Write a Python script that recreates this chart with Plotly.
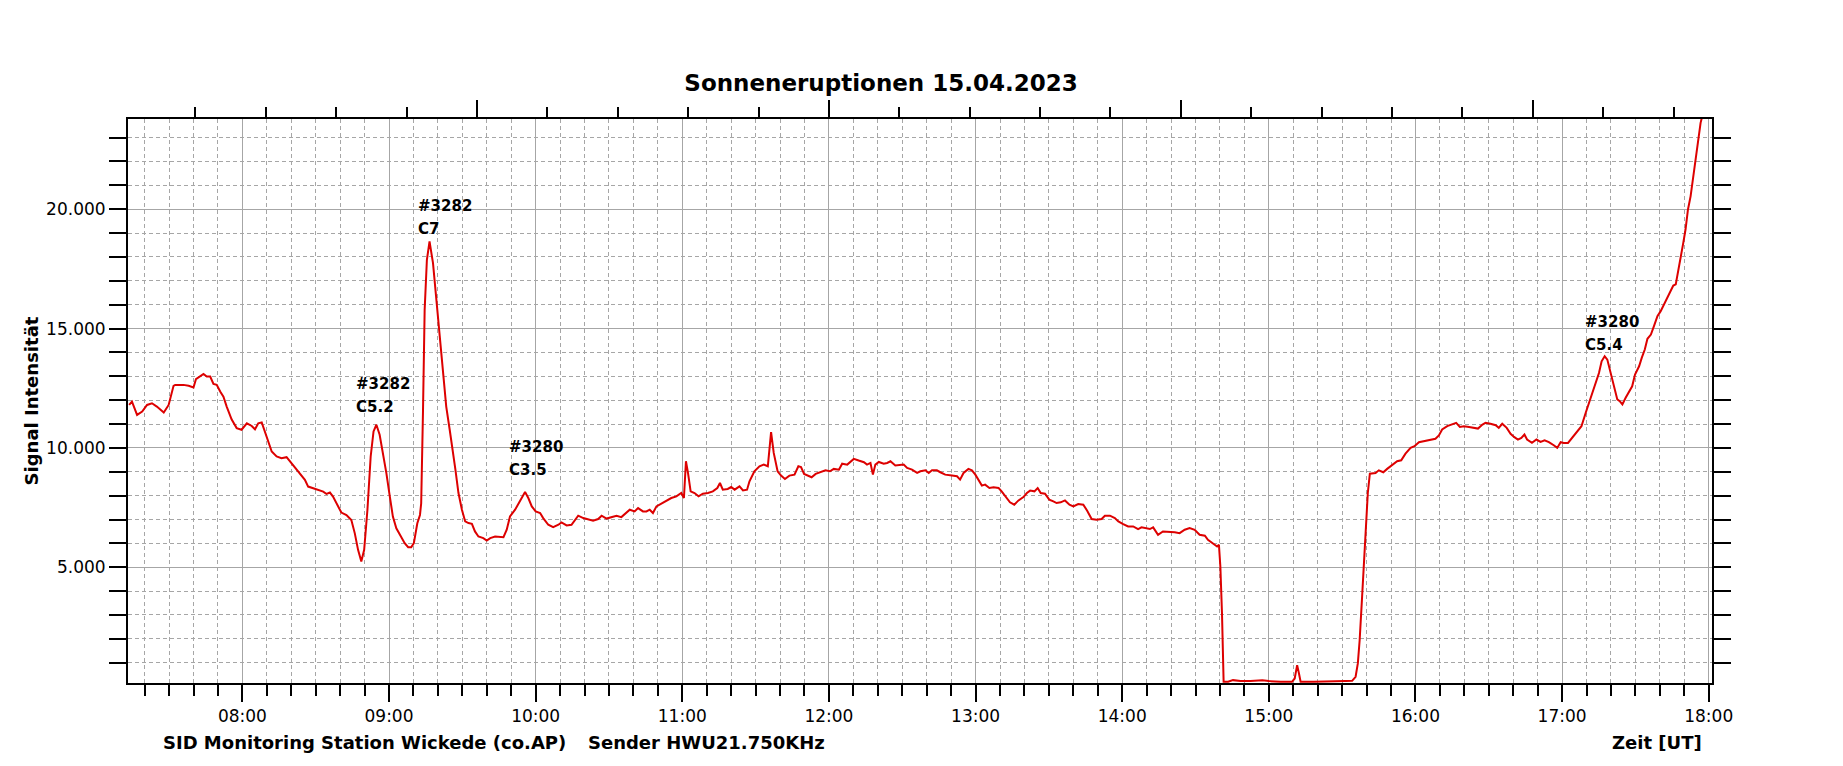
import pandas as pd
import plotly.graph_objects as go

# SID Messung 15.04.2023 - Zeit (UT) und Signalintensitaet
zeit = [
    "07:13:40", "07:14:50", "07:16:55", "07:19:00", "07:21:00", "07:23:00", "07:25:00", "07:27:50",
    "07:29:50", "07:31:50", "07:32:30", "07:33:55", "07:35:55", "07:38:00", "07:40:00", "07:41:00",
    "07:42:40", "07:44:05", "07:45:25", "07:46:50", "07:48:10", "07:49:30", "07:50:55", "07:52:15",
    "07:53:35", "07:55:35", "07:57:40", "07:59:40", "08:01:50", "08:03:50", "08:05:10", "08:06:30",
    "08:07:55", "08:09:55", "08:12:00", "08:14:00", "08:16:00", "08:18:05", "08:20:05", "08:22:10",
    "08:24:10", "08:25:35", "08:26:55", "08:29:00", "08:31:00", "08:33:05", "08:34:25", "08:35:50",
    "08:37:05", "08:39:10", "08:40:30", "08:42:35", "08:44:35", "08:46:00", "08:47:20", "08:48:40",
    "08:49:50", "08:51:10", "08:52:30", "08:53:40", "08:54:50", "08:56:10", "08:57:35", "08:58:55",
    "09:00:20", "09:01:35", "09:03:00", "09:04:50", "09:06:25", "09:07:50", "09:09:05", "09:10:10",
    "09:11:35", "09:12:40", "09:13:10", "09:13:55", "09:14:35", "09:15:30", "09:16:35", "09:18:00",
    "09:19:20", "09:20:40", "09:22:00", "09:23:25", "09:24:50", "09:26:00", "09:27:10", "09:28:25",
    "09:29:50", "09:31:10", "09:32:30", "09:33:55", "09:35:10", "09:36:35", "09:38:35", "09:40:00",
    "09:41:25", "09:43:25", "09:45:25", "09:46:50", "09:48:10", "09:49:30", "09:51:35", "09:53:35",
    "09:55:00", "09:55:40", "09:57:00", "09:58:25", "10:00:00", "10:01:50", "10:03:05", "10:05:10",
    "10:07:10", "10:09:20", "10:10:35", "10:12:40", "10:14:40", "10:16:05", "10:17:25", "10:19:30",
    "10:21:30", "10:23:30", "10:25:35", "10:27:00", "10:29:00", "10:31:00", "10:33:05", "10:35:05",
    "10:37:05", "10:38:30", "10:40:30", "10:41:55", "10:43:55", "10:45:20", "10:46:40", "10:48:00",
    "10:49:25", "10:51:25", "10:53:30", "10:55:30", "10:57:35", "10:59:35", "11:00:40", "11:01:30",
    "11:02:20", "11:03:25", "11:05:00", "11:06:40", "11:08:25", "11:10:30", "11:12:30", "11:14:20",
    "11:15:25", "11:16:35", "11:18:35", "11:20:00", "11:21:25", "11:23:25", "11:24:50", "11:26:30",
    "11:27:30", "11:29:30", "11:31:35", "11:33:20", "11:35:00", "11:36:20", "11:37:25", "11:39:00",
    "11:40:25", "11:42:00", "11:43:50", "11:45:55", "11:47:30", "11:48:35", "11:49:50", "11:51:10",
    "11:52:55", "11:54:35", "11:56:35", "11:58:35", "12:00:25", "12:02:00", "12:04:05", "12:05:25",
    "12:07:30", "12:08:50", "12:10:10", "12:12:10", "12:14:20", "12:15:35", "12:17:00", "12:18:00",
    "12:19:00", "12:20:25", "12:22:25", "12:23:50", "12:25:10", "12:27:10", "12:29:20", "12:30:35",
    "12:32:00", "12:34:00", "12:36:05", "12:37:25", "12:39:30", "12:40:50", "12:42:10", "12:44:10",
    "12:45:35", "12:47:35", "12:50:20", "12:52:25", "12:53:40", "12:55:05", "12:57:05", "12:58:30",
    "12:59:55", "13:01:10", "13:02:35", "13:03:55", "13:05:40", "13:07:20", "13:09:25", "13:10:40",
    "13:12:50", "13:14:05", "13:15:50", "13:17:35", "13:19:35", "13:21:00", "13:22:20", "13:24:05",
    "13:25:25", "13:26:40", "13:28:25", "13:30:10", "13:31:50", "13:33:10", "13:34:50", "13:36:35",
    "13:38:25", "13:40:00", "13:42:00", "13:44:05", "13:45:40", "13:47:30", "13:49:30", "13:51:35",
    "13:52:55", "13:55:00", "13:57:00", "13:58:25", "14:00:25", "14:02:25", "14:04:30", "14:06:30",
    "14:07:55", "14:09:55", "14:11:20", "14:12:40", "14:14:40", "14:16:40", "14:19:30", "14:21:30",
    "14:23:30", "14:25:35", "14:27:35", "14:29:40", "14:31:40", "14:33:50", "14:35:05", "14:37:10",
    "14:38:50", "14:39:35", "14:40:10", "14:40:50", "14:41:30", "14:43:20", "14:45:20", "14:48:25",
    "14:52:30", "14:57:20", "15:00:00", "15:04:50", "15:09:30", "15:10:35", "15:11:35", "15:12:20",
    "15:13:00", "15:18:25", "15:25:10", "15:29:20", "15:31:25", "15:34:05", "15:35:30", "15:36:25",
    "15:37:10", "15:38:10", "15:39:10", "15:40:00", "15:40:30", "15:41:20", "15:42:20", "15:43:40",
    "15:45:00", "15:46:50", "15:48:25", "15:50:30", "15:52:30", "15:54:10", "15:55:55", "15:58:00",
    "15:59:35", "16:01:25", "16:03:10", "16:04:50", "16:06:10", "16:08:10", "16:09:35", "16:10:55",
    "16:13:00", "16:15:00", "16:16:40", "16:18:10", "16:19:50", "16:21:55", "16:23:55", "16:25:35",
    "16:27:25", "16:28:40", "16:30:40", "16:32:50", "16:34:05", "16:35:30", "16:37:20", "16:38:55",
    "16:40:20", "16:41:55", "16:43:20", "16:44:35", "16:45:40", "16:47:40", "16:49:30", "16:51:10",
    "16:52:50", "16:54:35", "16:56:35", "16:58:00", "16:59:25", "17:00:40", "17:02:25", "17:04:10",
    "17:06:10", "17:07:55", "17:09:40", "17:11:40", "17:13:30", "17:15:05", "17:16:10", "17:17:25",
    "17:18:30", "17:19:55", "17:21:30", "17:22:35", "17:23:35", "17:24:40", "17:26:00", "17:27:25",
    "17:28:40", "17:29:50", "17:31:30", "17:32:35", "17:33:50", "17:34:55", "17:36:20", "17:37:35",
    "17:39:00", "17:40:20", "17:41:40", "17:43:05", "17:44:25", "17:45:30", "17:46:30", "17:47:25",
    "17:48:30", "17:49:35", "17:50:30", "17:51:30", "17:52:35", "17:53:40", "17:54:35", "17:55:35",
    "17:56:40", "17:57:10",
]
signal = [
    11800, 11940, 11380, 11520, 11800, 11870, 11730, 11480,
    11800, 12600, 12640, 12640, 12640, 12600, 12530, 12880,
    12990, 13100, 12990, 12990, 12680, 12640, 12360, 12150,
    11730, 11200, 10830, 10760, 11030, 10920, 10780, 11030,
    11070, 10480, 9850, 9640, 9570, 9610, 9360, 9110,
    8870, 8660, 8380, 8310, 8270, 8170, 8070, 8130,
    7960, 7540, 7290, 7190, 6980, 6420, 5730, 5240,
    5730, 7400, 9640, 10690, 10970, 10550, 9780, 8940,
    7960, 7120, 6630, 6260, 6010, 5840, 5840, 6010,
    6840, 7190, 7680, 11600, 15780, 17880, 18650, 17740,
    16200, 14670, 13130, 11730, 10760, 9800, 9090, 8110,
    7410, 6920, 6850, 6820, 6500, 6290, 6220, 6120,
    6220, 6290, 6260, 6260, 6570, 7130, 7410, 7800,
    8040, 8150, 7900, 7550, 7340, 7270, 7060, 6780,
    6680, 6780, 6880, 6750, 6780, 6990, 7160, 7060,
    6990, 6950, 7020, 7160, 7040, 7090, 7160, 7100,
    7270, 7410, 7340, 7480, 7340, 7340, 7410, 7270,
    7550, 7660, 7800, 7900, 7970, 8110, 7900, 9440,
    8950, 8180, 8110, 7970, 8080, 8110, 8180, 8320,
    8530, 8250, 8280, 8360, 8250, 8390, 8220, 8250,
    8600, 9020, 9230, 9300, 9230, 10660, 9790, 9020,
    8840, 8700, 8840, 8880, 9230, 9200, 8910, 8840,
    8770, 8910, 8980, 9060, 9020, 9120, 9090, 9340,
    9300, 9440, 9540, 9470, 9400, 9300, 9370, 8880,
    9300, 9410, 9340, 9370, 9440, 9260, 9300, 9300,
    9160, 9090, 8950, 9020, 9060, 8950, 9060, 9060,
    8980, 8880, 8840, 8810, 8670, 8950, 9120, 9060,
    8880, 8640, 8420, 8460, 8320, 8350, 8320, 8180,
    7900, 7720, 7620, 7800, 7940, 8110, 8210, 8180,
    8320, 8110, 8080, 7830, 7760, 7690, 7720, 7800,
    7620, 7550, 7650, 7620, 7370, 7020, 6990, 7020,
    7160, 7160, 7060, 6920, 6810, 6710, 6710, 6600,
    6670, 6640, 6600, 6670, 6360, 6500, 6500, 6470,
    6430, 6570, 6640, 6570, 6360, 6320, 6150, 6010,
    5870, 5940, 5030, 3070, 200, 200, 270, 230,
    230, 270, 230, 200, 200, 340, 900, 550,
    200, 200, 200, 230, 230, 240, 410, 970,
    1950, 3770, 5590, 6990, 8110, 8920, 8920, 8950,
    9060, 8980, 9120, 9300, 9440, 9480, 9760, 10000,
    10070, 10240, 10280, 10310, 10350, 10380, 10520, 10770,
    10910, 10980, 11050, 10880, 10910, 10880, 10840, 10810,
    10980, 11050, 11010, 10950, 10840, 11010, 10840, 10590,
    10460, 10350, 10420, 10560, 10350, 10210, 10350, 10250,
    10320, 10240, 10110, 10000, 10240, 10210, 10210, 10420,
    10660, 10910, 11470, 12100, 12580, 13140, 13630, 13840,
    13700, 13140, 12580, 12030, 11960, 11820, 12100, 12370,
    12580, 13070, 13420, 13770, 14120, 14570, 14750, 15100,
    15520, 15730, 16010, 16360, 16570, 16800, 16850, 17330,
    17890, 18590, 19150, 19990, 20550, 21380, 22220, 22920,
    23620, 23830,
]

# Beschriftung der Flares (Region / Klasse)
flare_region = ["#3282", "#3282", "#3280", "#3280"]
flare_klasse = ["C5.2", "C7", "C3.5", "C5.4"]
flare_zeit = ["08:45:36", "09:11:00", "09:48:20", "17:08:40"]
flare_pos = [12680, 20140, 10030, 15260]

datum = "2023-04-15 "
t = pd.to_datetime([datum + z for z in zeit])
tage = [(x.hour + x.minute / 60 + x.second / 3600) / 24 for x in t]

x_von, x_bis = datum + "07:13:12", datum + "18:01:20"
t_von, t_bis = pd.Timestamp(x_von), pd.Timestamp(x_bis)
tag_von = (t_von.hour + t_von.minute / 60 + t_von.second / 3600) / 24
tag_bis = (t_bis.hour + t_bis.minute / 60 + t_bis.second / 3600) / 24

schrift = "DejaVu Sans"
gitter = "#a6a6a6"

# die Seite hat 8px Rand (body margin), deshalb etwas kleiner
breite, hoehe = 1835, 758

fig = go.Figure()
fig.add_trace(go.Scatter(x=t, y=signal, mode="lines", line=dict(color="#dd0000", width=2),
                         hoverinfo="x+y", showlegend=False))
# unsichtbare Spur fuer die obere Achse (Tagesbruchteile)
fig.add_trace(go.Scatter(x=tage, y=signal, xaxis="x2", mode="lines", opacity=0,
                         line=dict(width=0), hoverinfo="skip", showlegend=False))

for reg, kl, zt, pos in zip(flare_region, flare_klasse, flare_zeit, flare_pos):
    for txt, sh in [(reg, 0), (kl, -23)]:
        fig.add_annotation(x=datum + zt, y=pos, text="<b>" + txt + "</b>", showarrow=False,
                           xanchor="left", yanchor="middle", yshift=sh,
                           font=dict(family=schrift, size=15, color="black"))

fig.add_annotation(xref="paper", yref="paper", x=-0.0608, y=0.5005, text="<b>Signal Intensität</b>",
                   textangle=-90, showarrow=False, xanchor="center", yanchor="middle",
                   font=dict(family=schrift, size=18, color="black"))
fig.add_annotation(xref="paper", yref="paper", x=0.0206, y=-0.105,
                   text="<b>SID Monitoring Station Wickede (co.AP)</b>", showarrow=False,
                   xanchor="left", yanchor="middle", font=dict(family=schrift, size=18, color="black"))
fig.add_annotation(xref="paper", yref="paper", x=0.289, y=-0.105, text="<b>Sender HWU21.750KHz</b>",
                   showarrow=False, xanchor="left", yanchor="middle",
                   font=dict(family=schrift, size=18, color="black"))
fig.add_annotation(xref="paper", yref="paper", x=0.9951, y=-0.105, text="<b>Zeit [UT]</b>",
                   showarrow=False, xanchor="right", yanchor="middle",
                   font=dict(family=schrift, size=18, color="black"))

fig.update_layout(
    width=breite, height=hoehe,
    margin=dict(l=120, r=131, t=111, b=83),
    paper_bgcolor="white", plot_bgcolor="white",
    separators=",.",
    title=dict(text="<b>Sonneneruptionen 15.04.2023</b>", xref="paper", x=0.4754, xanchor="center",
               y=1 - 75 / hoehe, yanchor="middle", font=dict(family=schrift, size=23, color="black")),
    font=dict(family=schrift, size=17, color="black"),
    xaxis=dict(
        type="date", range=[x_von, x_bis], tickformat="%H:%M",
        tick0=datum + "00:00", dtick=3600000,
        ticks="outside", ticklen=17, tickwidth=1.5, tickcolor="black",
        showline=True, linecolor="black", linewidth=2, mirror=True,
        showgrid=True, gridcolor=gitter, gridwidth=1,
        minor=dict(dtick=600000, ticks="outside", ticklen=11, tickwidth=1.5, tickcolor="black",
                   showgrid=True, gridcolor=gitter, griddash="4px,3px", gridwidth=1),
        zeroline=False, tickfont=dict(size=17),
    ),
    xaxis2=dict(
        overlaying="x", side="top", type="linear", range=[tag_von, tag_bis],
        tick0=0, dtick=0.1, ticks="outside", ticklen=17, tickwidth=1.5, tickcolor="black",
        showticklabels=False, showgrid=False, zeroline=False,
        showline=True, linecolor="black", linewidth=2,
        minor=dict(dtick=0.02, ticks="outside", ticklen=10, tickwidth=1.5, tickcolor="black",
                   showgrid=False),
    ),
    yaxis=dict(
        range=[150, 23780], dtick=5000, tick0=0, tickformat=",d",
        ticks="outside", ticklen=17, tickwidth=1.5, tickcolor="black",
        showline=True, linecolor="black", linewidth=2, mirror="allticks",
        showgrid=True, gridcolor=gitter, gridwidth=1,
        minor=dict(dtick=1000, ticks="outside", ticklen=11, tickwidth=1.5, tickcolor="black",
                   showgrid=True, gridcolor=gitter, griddash="4px,3px", gridwidth=1),
        zeroline=False, tickfont=dict(size=17),
    ),
)

fig.write_html("out.html")
